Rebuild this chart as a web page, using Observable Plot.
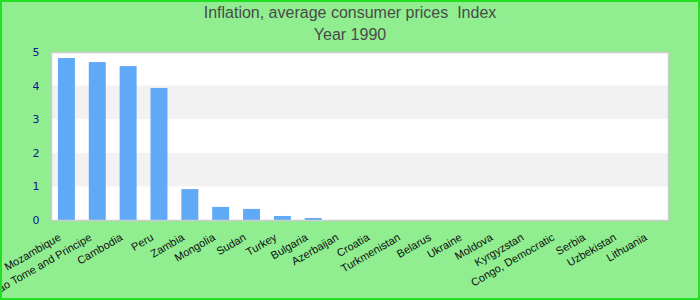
<!DOCTYPE html>
<html>
<head>
<meta charset="utf-8">
<script src="https://cdn.jsdelivr.net/npm/d3@7"></script>
<script src="https://cdn.jsdelivr.net/npm/@observablehq/plot@0.6"></script>
<style>
  body { margin: 0; }
  #wrap { position: relative; width: 700px; height: 300px; background: #90EE90; overflow: hidden; }
  #border { position: absolute; left: 0; top: 0; width: 700px; height: 300px; box-sizing: border-box; border: 2px solid #22e022; pointer-events: none; }
  .t { position: absolute; left: 0; width: 700px; text-align: center; font-family: "Liberation Sans", Arial, sans-serif; font-size: 16px; color: #4a4a4a; line-height: 20px; }
  #chart { position: absolute; left: 0; top: 45px; }
</style>
</head>
<body>
<div id="wrap">
  <div class="t" style="top:3px">Inflation, average consumer prices&nbsp; Index</div>
  <div class="t" style="top:25px">Year 1990</div>
  <div id="chart"></div>
  <div id="border"></div>
</div>
<script>
const countries = ["Mozambique", "Sao Tome and Principe", "Cambodia", "Peru", "Zambia", "Mongolia", "Sudan", "Turkey", "Bulgaria", "Azerbaijan", "Croatia", "Turkmenistan", "Belarus", "Ukraine", "Moldova", "Kyrgyzstan", "Congo, Democratic", "Serbia", "Uzbekistan", "Lithuania"];
const values = [4.82, 4.70, 4.58, 3.93, 0.92, 0.39, 0.33, 0.12, 0.06, 0, 0, 0, 0, 0, 0, 0, 0, 0, 0, 0];
const yTicks = [0, 1, 2, 3, 4, 5];

const data = countries.map((c, i) => ({country: c, value: values[i]}));
const bands = [];
for (let i = 1; i < yTicks.length - 1; i += 2) bands.push({y1: yTicks[i], y2: yTicks[i + 1]});

const chart = Plot.plot({
  width: 700,
  height: 255,
  marginTop: 7,
  marginBottom: 80,
  marginLeft: 51,
  marginRight: 32,
  style: {background: "transparent", overflow: "visible"},
  x: {domain: countries, paddingInner: 0.45, paddingOuter: 0.225, round: false, label: null},
  y: {domain: [0, 5], label: null},
  marks: [
    Plot.frame({fill: "white", stroke: null}),
    Plot.rect(bands, {y1: "y1", y2: "y2", fill: "#f2f2f2"}),
    Plot.barY(data, {x: "country", y: "value", fill: "#60a9f6"}),
    Plot.frame({stroke: "#cccccc", strokeWidth: 1.5}),
    Plot.axisY({ticks: yTicks, tickFormat: "d", tickSize: 0, tickPadding: 12, fill: "#14148c", fontFamily: "DejaVu Sans", fontSize: 11, label: null}),
    Plot.axisX({tickSize: 0, tickPadding: 16, tickRotate: -30, fill: "#111", fontFamily: "Liberation Sans, Arial, sans-serif", fontSize: 11, label: null, dx: -7})
  ]
});
document.getElementById("chart").appendChild(chart);
</script>
</body>
</html>
